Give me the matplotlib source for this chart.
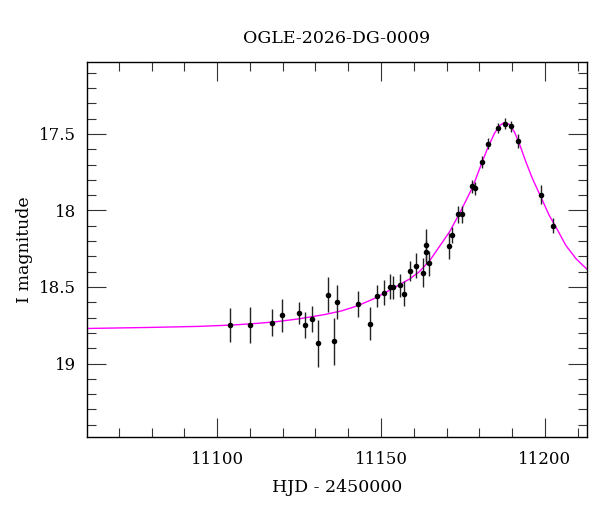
import matplotlib
matplotlib.use("Agg")
import matplotlib.pyplot as plt
from matplotlib.ticker import MultipleLocator, FuncFormatter

# Observed photometry (HJD - 2450000, I mag, error)
hjd = [11103.9, 11109.9, 11116.9, 11119.8, 11124.9, 11126.9, 11128.9, 11130.9,
       11133.8, 11135.8, 11136.7, 11142.9, 11146.8, 11148.85, 11150.8, 11152.75,
       11153.75, 11155.7, 11156.9, 11158.75, 11160.7, 11162.7, 11163.8, 11163.8,
       11164.7, 11170.7, 11171.8, 11173.6, 11174.7, 11177.8, 11178.7, 11180.7,
       11182.75, 11185.8, 11187.7, 11189.6, 11191.8, 11198.8, 11202.6]
mag = [18.747, 18.747, 18.732, 18.686, 18.671, 18.747, 18.709, 18.868,
       18.550, 18.854, 18.599, 18.609, 18.740, 18.559, 18.537, 18.497,
       18.501, 18.489, 18.544, 18.393, 18.360, 18.408, 18.271, 18.226,
       18.344, 18.232, 18.160, 18.025, 18.025, 17.843, 17.856, 17.686,
       17.565, 17.463, 17.434, 17.450, 17.544, 17.896, 18.099]
err = [0.110, 0.117, 0.085, 0.105, 0.074, 0.085, 0.082, 0.154,
       0.113, 0.153, 0.111, 0.084, 0.109, 0.074, 0.080, 0.082,
       0.075, 0.075, 0.083, 0.065, 0.079, 0.095, 0.080, 0.105,
       0.082, 0.082, 0.052, 0.054, 0.054, 0.043, 0.045, 0.039,
       0.036, 0.033, 0.036, 0.037, 0.046, 0.065, 0.049]

# Model curve
model_t = [11060.3, 11080.0, 11095.0, 11105.0, 11112.0, 11118.0, 11125.0, 11132.8,
           11138.0, 11142.8, 11147.5, 11152.6, 11158.7, 11161.7, 11164.8, 11170.9,
           11174.2, 11178.0, 11180.5, 11182.5, 11184.6, 11186.1, 11187.6, 11189.15,
           11190.7, 11192.2, 11194.2, 11196.2, 11198.8, 11201.3, 11203.9, 11206.4,
           11209.5, 11212.8]
model_m = [18.771, 18.764, 18.757, 18.748, 18.738, 18.727, 18.708, 18.680,
           18.656, 18.623, 18.580, 18.522, 18.448, 18.400, 18.330, 18.140,
           18.010, 17.846, 17.704, 17.595, 17.497, 17.447, 17.425, 17.438,
           17.486, 17.562, 17.682, 17.791, 17.912, 18.031, 18.129, 18.228,
           18.315, 18.383]

title = "OGLE-2026-DG-0009"
xlabel = "HJD - 2450000"
ylabel = "I magnitude"

plt.rcParams['font.family'] = ['DejaVu Serif']

fig = plt.figure(figsize=(6.0, 5.12), dpi=100)
ax = fig.add_axes([0.145, 0.1465, 0.833, 0.7324])

ax.plot(model_t, model_m, color='#ff00ff', lw=1.0, zorder=2)
ax.errorbar(hjd, mag, yerr=err, fmt='o', color='black', ms=4, mew=0,
            ecolor='#222222', elinewidth=1.0, capsize=2.5, capthick=1.0, zorder=3)

ax.set_xlim(11060.3, 11212.8)
ax.set_ylim(19.48, 17.03)

ax.xaxis.set_major_locator(MultipleLocator(50))
ax.xaxis.set_minor_locator(MultipleLocator(10))
ax.yaxis.set_major_locator(MultipleLocator(0.5))
ax.yaxis.set_minor_locator(MultipleLocator(0.1))
ax.yaxis.set_major_formatter(FuncFormatter(lambda v, p: f"{v:g}"))

ax.tick_params(which='both', direction='in', top=True, right=True, color='#333333', width=0.8)
ax.tick_params(which='major', length=13.5, labelsize=12, pad=8)
ax.tick_params(which='minor', length=6.5)
ax.tick_params(axis='x', which='major', pad=10)
for s in ax.spines.values():
    s.set_linewidth(1.0)

ax.set_title(title, fontsize=12.5, pad=14)
ax.set_xlabel(xlabel, fontsize=12.5, labelpad=8)
ax.set_ylabel(ylabel, fontsize=12.5, labelpad=4)

fig.savefig("out.png", dpi=100)
